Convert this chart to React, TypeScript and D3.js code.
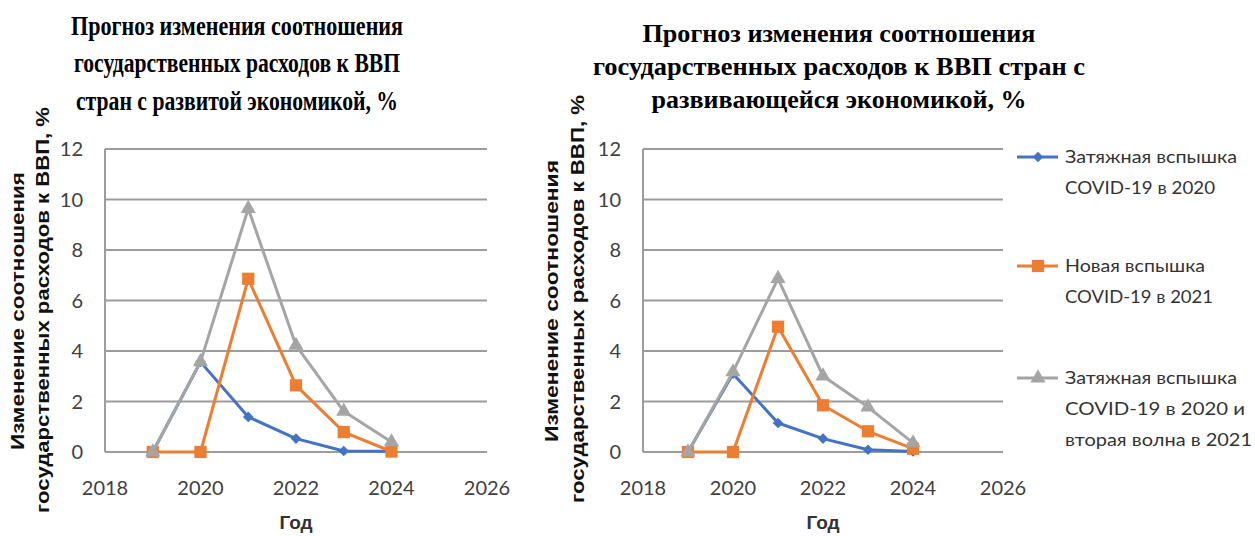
import * as d3 from "d3";

const years = [2019, 2020, 2021, 2022, 2023, 2024];
const xTicks = [2018, 2020, 2022, 2024, 2026];
const yTicks = [0, 2, 4, 6, 8, 10, 12];

// developed economies
const devProlonged2020 = [0, 3.57, 1.39, 0.53, 0.04, 0.03];
const devNew2021 = [0, 0, 6.86, 2.64, 0.79, 0.02];
const devSecondWave = [0, 3.57, 9.64, 4.22, 1.61, 0.4];

// developing economies
const emProlonged2020 = [0, 3.1, 1.15, 0.53, 0.09, 0.02];
const emNew2021 = [0, 0, 4.96, 1.85, 0.82, 0.13];
const emSecondWave = [0, 3.17, 6.87, 3.01, 1.78, 0.36];

const seriesNames = [
  ["Затяжная вспышка", "COVID-19 в 2020"],
  ["Новая вспышка", "COVID-19 в 2021"],
  ["Затяжная вспышка", "COVID-19 в 2020 и", "вторая волна в 2021"],
];

const colors = ["#4472C4", "#ED7D31", "#A5A5A5"];
const markerTypes = ["diamond", "square", "triangle"];

const leftTitle = [
  "Прогноз  изменения соотношения",
  "государственных расходов к ВВП",
  "стран с развитой экономикой, %",
];
const rightTitle = [
  "Прогноз  изменения соотношения",
  "государственных расходов к ВВП  стран  с",
  "развивающейся  экономикой, %",
];
const yLabel = ["Изменение  соотношения", "государственных   расходов  к  ВВП,  %"];

const tickFont = "Lato, 'Open Sans', sans-serif";
const tickColor = "#404040";

function markerPath(type: string) {
  if (type === "diamond") return d3.symbol(d3.symbolSquare, 56)();
  if (type === "square") return d3.symbol(d3.symbolSquare, 150)();
  return d3.symbol(d3.symbolTriangle, 100)();
}

interface PanelProps {
  series: number[][];
  left: number;
  right: number;
  top: number;
  bottom: number;
  title: string[];
  titleX: number;
  titleSize: number;
  titleBaselines: number[];
  titleLengths: number[];
  yLabelX: number[];
  yLabelY: number[];
  yLabelLengths: number[];
}

function Panel(p: PanelProps) {
  const x = d3.scaleLinear().domain([2018, 2026]).range([p.left, p.right]);
  const y = d3.scaleLinear().domain([0, 12]).range([p.bottom, p.top]);
  const line = d3
    .line<number>()
    .x((_, i) => x(years[i]))
    .y((d) => y(d));

  return (
    <g>
      {p.title.map((t, i) => (
        <text
          key={i}
          x={p.titleX}
          y={p.titleBaselines[i]}
          textAnchor="middle"
          fontFamily="'Liberation Serif', 'Times New Roman', serif"
          fontWeight="bold"
          fontSize={p.titleSize}
          fill="#000"
          textLength={p.titleLengths[i]}
          lengthAdjust="spacingAndGlyphs"
        >
          {t}
        </text>
      ))}

      {/* grid */}
      {yTicks.map((t) => (
        <line
          key={t}
          x1={p.left}
          x2={p.right}
          y1={y(t)}
          y2={y(t)}
          stroke="#9c9c9c"
          strokeWidth={2}
        />
      ))}
      <line x1={p.left} x2={p.left} y1={p.top} y2={p.bottom} stroke="#9c9c9c" strokeWidth={2} />

      {yTicks.map((t) => (
        <text
          key={t}
          x={p.left - 22}
          y={y(t)}
          dy="0.36em"
          textAnchor="end"
          fontFamily={tickFont}
          fontSize={20}
          fill={tickColor}
        >
          {t}
        </text>
      ))}
      {xTicks.map((t) => (
        <text
          key={t}
          x={x(t)}
          y={p.bottom + 43}
          textAnchor="middle"
          fontFamily={tickFont}
          fontSize={20}
          fill={tickColor}
        >
          {t}
        </text>
      ))}

      <text
        x={(p.left + p.right) / 2}
        y={p.bottom + 77}
        textAnchor="middle"
        fontFamily="'Liberation Sans', Arial, sans-serif"
        fontWeight="bold"
        fontSize={19}
        fill="#333"
      >
        Год
      </text>

      {yLabel.map((t, i) => (
        <text
          key={i}
          transform={`translate(${p.yLabelX[i]},${p.yLabelY[i]}) rotate(-90)`}
          textAnchor="middle"
          dominantBaseline="central"
          fontFamily="'Liberation Sans', Arial, sans-serif"
          fontWeight="bold"
          fontSize={18}
          fill="#111"
          textLength={p.yLabelLengths[i]}
          lengthAdjust="spacingAndGlyphs"
        >
          {t}
        </text>
      ))}

      {p.series.map((s, si) => (
        <g key={si}>
          <path d={line(s) ?? ""} fill="none" stroke={colors[si]} strokeWidth={3} strokeLinejoin="round" />
          {s.map((v, i) => (
            <path
              key={i}
              d={markerPath(markerTypes[si]) ?? ""}
              transform={`translate(${x(years[i])},${y(v)})${markerTypes[si] === "diamond" ? " rotate(45)" : ""}`}
              fill={colors[si]}
            />
          ))}
        </g>
      ))}
    </g>
  );
}

const legendY = [157, 266, 378];
const legendLengths = [
  [172, 150],
  [140, 148],
  [172, 180, 187],
];

function Legend() {
  return (
    <g>
      {seriesNames.map((lines, si) => (
        <g key={si} transform={`translate(0,${legendY[si]})`}>
          <line x1={1017} x2={1058} y1={0} y2={0} stroke={colors[si]} strokeWidth={3} />
          <path
            d={markerPath(markerTypes[si]) ?? ""}
            transform={`translate(1038,0)${markerTypes[si] === "diamond" ? " rotate(45)" : ""}`}
            fill={colors[si]}
          />
          {lines.map((t, li) => (
            <text
              key={li}
              x={1065}
              y={6 + li * 31}
              fontFamily={tickFont}
              fontSize={18}
              fill="#333"
              textLength={legendLengths[si][li]}
              lengthAdjust="spacingAndGlyphs"
            >
              {t}
            </text>
          ))}
        </g>
      ))}
    </g>
  );
}

export default function App() {
  return (
    <svg
      width={1255}
      height={536}
      style={{ position: "absolute", left: 0, top: 0, background: "#fff" }}
    >
      <Panel
        series={[devProlonged2020, devNew2021, devSecondWave]}
        left={105}
        right={487}
        top={149}
        bottom={452}
        title={leftTitle}
        titleX={237}
        titleSize={28}
        titleBaselines={[35, 72, 110]}
        titleLengths={[332, 326, 322]}
        yLabelX={[18, 43]}
        yLabelY={[311, 310]}
        yLabelLengths={[278, 406]}
      />
      <Panel
        series={[emProlonged2020, emNew2021, emSecondWave]}
        left={643}
        right={1003}
        top={149}
        bottom={452}
        title={rightTitle}
        titleX={839}
        titleSize={25}
        titleBaselines={[42, 75, 108]}
        titleLengths={[393, 492, 375]}
        yLabelX={[552, 578]}
        yLabelY={[301, 299]}
        yLabelLengths={[282, 408]}
      />
      <Legend />
    </svg>
  );
}
